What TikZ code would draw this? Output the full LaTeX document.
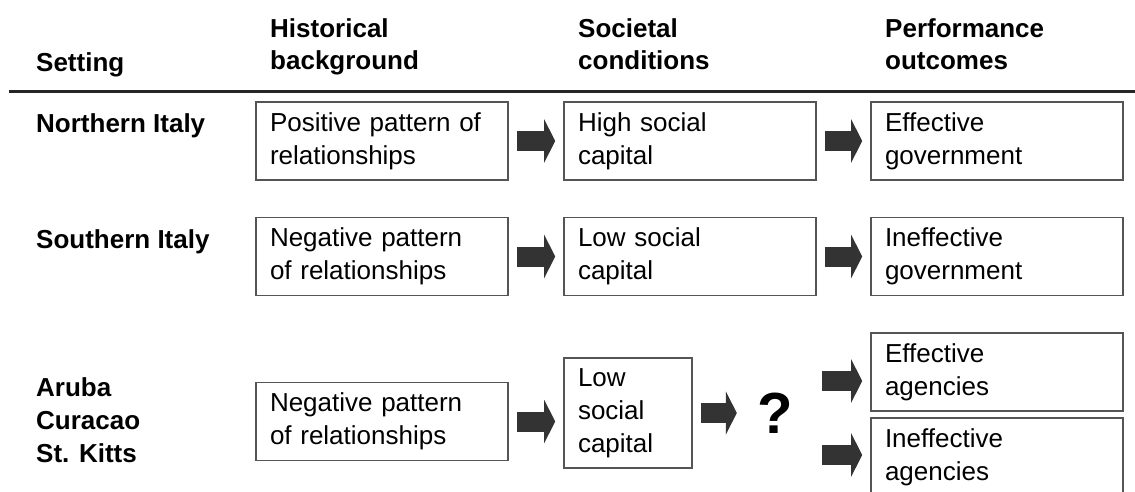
\documentclass[tikz,border=0pt]{standalone}
\usepackage{fontspec}
\setmainfont{Liberation Sans}
\usetikzlibrary{arrows.meta}
\definecolor{arrowgray}{HTML}{333333}
\definecolor{boxgray}{HTML}{555555}

\begin{document}
\begin{tikzpicture}[x=1pt, y=-1pt,
    every node/.style = {font=\fontsize{26}{33}\selectfont},
    head/.style = {font=\fontsize{26}{32}\selectfont\bfseries,
      align=left, inner sep=0pt},
    place/.style = {font=\fontsize{26}{33}\selectfont\bfseries,
      align=left, inner sep=0pt},
    box/.style = {shape=rectangle, draw=boxgray, line width=1.6pt,
      align=left, text width=224pt, minimum height=78pt,
      inner xsep=14pt, inner ysep=0pt},
    smallbox/.style = {box, text width=100pt, minimum height=110pt},
    link/.style = {draw=arrowgray, line width=20pt,
      -{Triangle[width=43pt, length=11pt]},
      shorten <=8pt, shorten >=8pt}]
    \useasboundingbox (0,0) rectangle (1135,492);
    \node[head, anchor=base west] (hset) at (36,72) {Setting};
    \node[head, anchor=base west] (hhist) at (270,70) {Historical\\background};
    \node[head, anchor=base west] (hsoc) at (578,70) {Societal\\conditions};
    \node[head, anchor=base west] (hperf) at (885,70) {Performance\\outcomes};
    \draw[line width=3pt, black!85] (9,92) -- (1135,92);

    \node[place, anchor=base west] (north) at (36,133) {Northern Italy};
    \node[box] (a1) at (382,141) {Positive pattern of\\relationships};
    \node[box] (b1) at (690,141) {High social\\capital};
    \node[box] (c1) at (997,141) {Effective\\government};
    \draw[link] (a1) -- (b1);
    \draw[link] (b1) -- (c1);

    \node[place, anchor=base west] (south) at (36,248) {Southern Italy};
    \node[box] (a2) at (382,256.5) {Negative pattern\\of relationships};
    \node[box] (b2) at (690,256.5) {Low social\\capital};
    \node[box] (c2) at (997,256.5) {Ineffective\\government};
    \draw[link] (a2) -- (b2);
    \draw[link] (b2) -- (c2);

    \node[place, anchor=base west] (isles) at (36,462) {Aruba\\Curacao\\St. Kitts};
    \node[box] (a3) at (382,421.5) {Negative pattern\\of relationships};
    \node[smallbox] (b3) at (628,413) {Low\\social\\capital};
    \node[font=\fontsize{58}{60}\selectfont\bfseries, inner sep=0pt,
      minimum width=60pt] (q) at (775,413) {?};
    \node[box] (ea) at (997,372) {Effective\\agencies};
    \node[box] (ia) at (997,457) {Ineffective\\agencies};
    \coordinate (qa) at (814,381);
    \coordinate (qb) at (814,455);
    \draw[link] (a3.east) -- (a3.east -| b3.west);
    \draw[link] (b3) -- (q);
    \draw[link] (qa) -- (qa -| ea.west);
    \draw[link] (qb) -- (qb -| ia.west);
\end{tikzpicture}
\end{document}
